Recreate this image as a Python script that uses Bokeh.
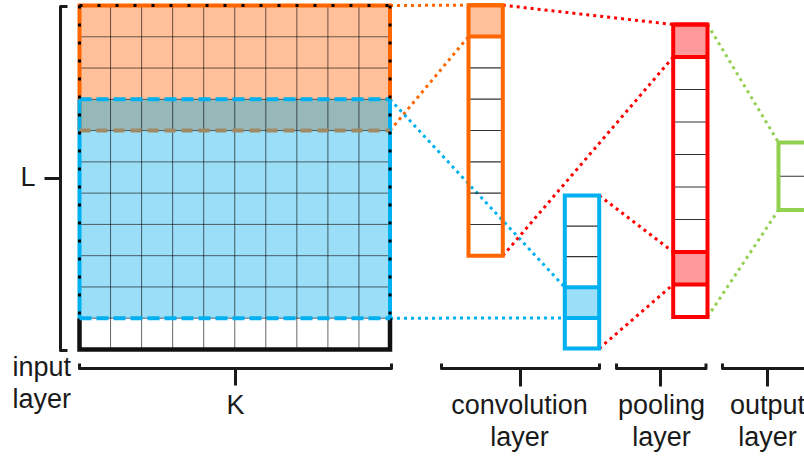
from bokeh.plotting import figure
from bokeh.models import Range1d
from bokeh.core.properties import value
from bokeh.embed import file_html
from bokeh.resources import INLINE

# ---------------- data (structure of the network) ----------------
input_rows = 11
input_cols = 10
orange_filter_rows = [0, 4]    # rows covered by filter 1 (start, end excl.)
blue_filter_rows = [3, 10]     # rows covered by filter 2
conv_orange_cells = 8
conv_orange_active = [0]
conv_blue_cells = 5
conv_blue_active = [3]
pool_cells = 9
pool_active = [0, 7]
output_cells = 2
side_labels = ["L", "K"]
label_line1 = ["input", "convolution", "pooling", "output"]
label_line2 = ["layer", "layer", "layer", "layer"]

# ---------------- styles ----------------
ORANGE, ORANGE_FILL = "#FF6600", "#FFC09A"
BLUE, BLUE_FILL = "#00B0F0", "#9BDEF7"
OVERLAP = "#97B8B9"
RED, RED_FILL = "#FF0000", "#FF9999"
GREEN = "#92D050"
BROWN = "#A08A66"
INK = "#1a1a1a"
FONT = value("Liberation Sans")
FS = "27px"

# ---------------- layout (pixel space) ----------------
IX0, IX1, IY0, IY1 = 79.0, 389.5, 5.0, 349.0
OC = (468.0, 502.3, 4.7, 255.3)
BC = (564.3, 598.7, 195.0, 348.0)
PC = (672.7, 707.0, 24.0, 316.5)
GC = (778.0, 812.0, 142.0, 209.5)
TY1, TY2 = 404, 436          # text baselines (two label lines)

p = figure(width=804, height=456, output_backend="svg", toolbar_location=None,
           x_range=Range1d(0, 804), y_range=Range1d(456, 0),
           x_axis_type=None, y_axis_type=None, min_border=0,
           outline_line_color=None, background_fill_color="white",
           border_fill_color="white")
p.grid.visible = False

cw = (IX1 - IX0) / input_cols
rh = (IY1 - IY0) / input_rows

def rowy(r):
    return IY0 + r * rh

def dotted(x0, y0, x1, y1, color):
    p.line([x0, x1], [y0, y1], line_color=color, line_width=3,
           line_dash="3 4", line_cap="butt")

# ---------------- dotted connectors (below boxes) ----------------
ob, oe = orange_filter_rows
bb, be = blue_filter_rows
oh = (OC[3] - OC[2]) / conv_orange_cells
bh = (BC[3] - BC[2]) / conv_blue_cells
ph = (PC[3] - PC[2]) / pool_cells
a0 = conv_orange_active[0]
dotted(IX1, rowy(ob), OC[0], OC[2] + a0 * oh, ORANGE)
dotted(IX1, rowy(oe), OC[0], OC[2] + (a0 + 1) * oh, ORANGE)
a1 = conv_blue_active[0]
dotted(IX1, rowy(bb), BC[0], BC[2] + a1 * bh, BLUE)
dotted(IX1, rowy(be), BC[0], BC[2] + (a1 + 1) * bh, BLUE)
dotted(OC[1], OC[2], PC[0], PC[2] + pool_active[0] * ph, RED)
dotted(OC[1], OC[3], PC[0], PC[2] + (pool_active[0] + 1) * ph, RED)
dotted(BC[1], BC[2], PC[0], PC[2] + pool_active[1] * ph, RED)
dotted(BC[1], BC[3], PC[0], PC[2] + (pool_active[1] + 1) * ph, RED)
dotted(PC[1], PC[2], GC[0], GC[2], GREEN)
dotted(PC[1], PC[3], GC[0], GC[3], GREEN)

# ---------------- input grid ----------------
fills = []
for r in range(input_rows):
    in_o = ob <= r < oe
    in_b = bb <= r < be
    fills.append(OVERLAP if (in_o and in_b) else ORANGE_FILL if in_o
                 else BLUE_FILL if in_b else "white")
p.quad(left=[IX0] * input_rows, right=[IX1] * input_rows,
       top=[rowy(r) for r in range(input_rows)],
       bottom=[rowy(r + 1) for r in range(input_rows)],
       fill_color=fills, line_color=None)
# thin grid lines
xs = [[IX0 + c * cw] * 2 for c in range(1, input_cols)]
ys = [[IY0, IY1]] * (input_cols - 1)
xs += [[IX0, IX1]] * (input_rows - 1)
ys += [[rowy(r)] * 2 for r in range(1, input_rows)]
p.multi_line(xs, ys, line_color="black", line_alpha=0.6, line_width=1)

# outer black border (bottom part)
p.line([IX0, IX0, IX1, IX1], [rowy(be), IY1, IY1, rowy(be)],
       line_color="#111111", line_width=4.5, line_join="miter")
# orange filter frame
p.line([IX0, IX0, IX1, IX1], [rowy(oe), IY0, IY0, rowy(oe)],
       line_color=ORANGE, line_width=4, line_join="miter")
# blue filter sides
p.multi_line([[IX0, IX0], [IX1, IX1]], [[rowy(bb), rowy(be)]] * 2,
             line_color=BLUE, line_width=4)
# dashed edges
p.line([IX0, IX1], [rowy(oe)] * 2, line_color=BROWN, line_width=4, line_dash="11 6")
p.multi_line([[IX0, IX1]] * 2, [[rowy(bb)] * 2, [rowy(be)] * 2],
             line_color=BLUE, line_width=4, line_dash="12 5")
# black dots over the frame
p.multi_line([[IX0, IX1], [IX0, IX0], [IX1, IX1]],
             [[IY0, IY0], [IY0, rowy(be)], [IY0, rowy(be)]],
             line_color="black", line_width=3, line_dash="3 15")

# ---------------- columns ----------------
def column(box, n, active, color, fill):
    x0, x1, y0, y1 = box
    h = (y1 - y0) / n
    if active:
        p.quad(left=[x0] * len(active), right=[x1] * len(active),
               top=[y0 + a * h for a in active],
               bottom=[y0 + (a + 1) * h for a in active],
               fill_color=fill, line_color=None)
    if n > 1:
        p.multi_line([[x0, x1]] * (n - 1), [[y0 + i * h] * 2 for i in range(1, n)],
                     line_color="#333333", line_width=1.2)
    p.quad(left=[x0], right=[x1], top=[y0], bottom=[y1], fill_color=None,
           line_color=color, line_width=4, line_join="miter")
    edges = sorted({y0 + a * h for a in active} | {y0 + (a + 1) * h for a in active})
    if edges:
        p.multi_line([[x0, x1]] * len(edges), [[e, e] for e in edges],
                     line_color=color, line_width=4)

column(OC, conv_orange_cells, conv_orange_active, ORANGE, ORANGE_FILL)
column(BC, conv_blue_cells, conv_blue_active, BLUE, BLUE_FILL)
column(PC, pool_cells, pool_active, RED, RED_FILL)
column(GC, output_cells, [], GREEN, None)

# ---------------- braces ----------------
bx = [[67, 60, 60, 67], [60, 44],
      [IX0, IX0, IX1 + 1.5, IX1 + 1.5], [235, 235],
      [441, 441, 599, 599], [520, 520],
      [616, 616, 705.5, 705.5], [660, 660],
      [722, 722, 830], [767, 767]]
by = [[6, 6, 350, 350], [178, 178],
      [363, 368, 368, 363], [368, 385],
      [363, 368, 368, 363], [368, 386],
      [363, 368, 368, 363], [368, 386],
      [363, 368, 368], [368, 386]]
p.multi_line(bx, by, line_color=INK, line_width=3, line_join="round")

# ---------------- texts ----------------
p.text(x=[27.5, 235], y=[176, TY1], text=side_labels, text_align="center",
       text_baseline="alphabetic", text_font=FONT, text_font_size=FS, text_color=INK)
p.text(x=[12], y=[366], text=[label_line1[0]], text_align="left",
       text_baseline="alphabetic", text_font=FONT, text_font_size=FS, text_color=INK)
p.text(x=[12], y=[398], text=[label_line2[0]], text_align="left",
       text_baseline="alphabetic", text_font=FONT, text_font_size=FS, text_color=INK)
cx = [519, 661, 767]
p.text(x=cx, y=[TY1] * 3, text=label_line1[1:], text_align="center",
       text_baseline="alphabetic", text_font=FONT, text_font_size=FS, text_color=INK)
p.text(x=cx, y=[TY2] * 3, text=label_line2[1:], text_align="center",
       text_baseline="alphabetic", text_font=FONT, text_font_size=FS, text_color=INK)

open("out.html", "w").write(file_html(p, INLINE))
